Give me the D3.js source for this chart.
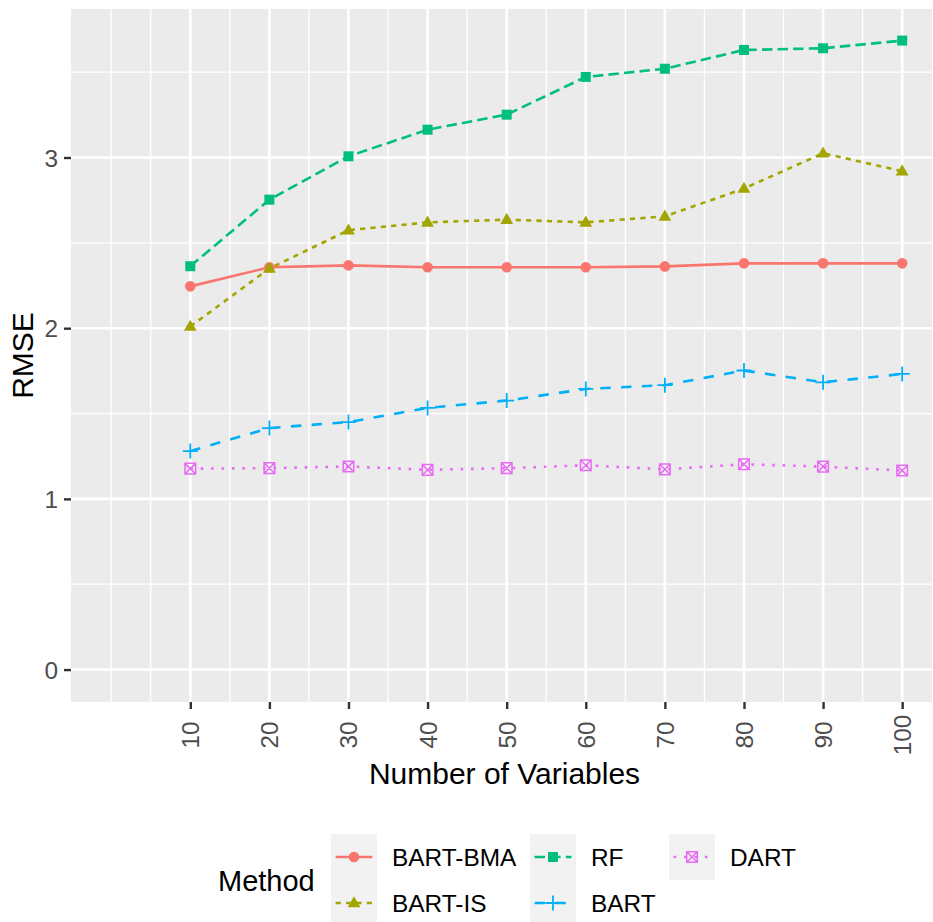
<!DOCTYPE html>
<html>
<head>
<meta charset="utf-8">
<script src="https://cdn.jsdelivr.net/npm/d3@7"></script>
<style>
  body { margin: 0; background: #fff; }
  text { font-family: "Liberation Sans", Arial, sans-serif; }
</style>
</head>
<body>
<div id="chart"></div>
<script>
// data
var nVars = [10, 20, 30, 40, 50, 60, 70, 80, 90, 100];
var methods = ["BART-BMA", "BART-IS", "RF", "BART", "DART"];
var bartBma = [2.245, 2.357, 2.368, 2.357, 2.357, 2.357, 2.362, 2.38, 2.38, 2.38];
var bartIs  = [2.01, 2.35, 2.574, 2.62, 2.636, 2.62, 2.655, 2.818, 3.025, 2.92];
var rf      = [2.363, 2.753, 3.007, 3.163, 3.251, 3.472, 3.52, 3.63, 3.64, 3.685];
var bart    = [1.28, 1.415, 1.45, 1.533, 1.576, 1.644, 1.666, 1.752, 1.683, 1.732];
var dart    = [1.177, 1.18, 1.19, 1.17, 1.18, 1.197, 1.173, 1.203, 1.189, 1.166];
var yTicks = [0, 1, 2, 3];
var yMinor = [0.5, 1.5, 2.5, 3.5];
var xMinor = [0, 5, 15, 25, 35, 45, 55, 65, 75, 85, 95];

function init() {
	var w = 933;
	var h = 922;
	var panel = {left: 71, right: 932, top: 9, bottom: 702};
	var colors = ["#F8766D", "#A3A500", "#00BF7D", "#00B0F6", "#E76BF3"];
	var lw = 2.6;
	var dashes = [null, "5.2,5.2", "10.4,5.2", "10.4,10.4", "2.6,7.8"];
	var values = [bartBma, bartIs, rf, bart, dart];
	var tickFont = "24.4px", titleFont = "30px";

	var xScale = d3.scaleLinear()
				.domain([-5.08, 103.77])
				.range([panel.left, panel.right]);
	var yScale = d3.scaleLinear()
				.domain([-0.19, 3.87])
				.range([panel.bottom, panel.top]);

	var svg = d3.select("#chart")
				.append("svg")
				.attr("width", w)
				.attr("height", h);

	// panel background + grid
	svg.append("rect")
		.attr("x", panel.left).attr("y", panel.top)
		.attr("width", panel.right - panel.left)
		.attr("height", panel.bottom - panel.top)
		.attr("fill", "#EBEBEB");

	var grid = svg.append("g");
	grid.selectAll("line.ymin").data(yMinor).enter().append("line")
		.attr("x1", panel.left).attr("x2", panel.right)
		.attr("y1", d => yScale(d)).attr("y2", d => yScale(d))
		.attr("stroke", "#fff").attr("stroke-width", 1.3);
	grid.selectAll("line.xmin").data(xMinor).enter().append("line")
		.attr("y1", panel.top).attr("y2", panel.bottom)
		.attr("x1", d => xScale(d)).attr("x2", d => xScale(d))
		.attr("stroke", "#fff").attr("stroke-width", 1.3);
	grid.selectAll("line.ymaj").data(yTicks).enter().append("line")
		.attr("x1", panel.left).attr("x2", panel.right)
		.attr("y1", d => yScale(d)).attr("y2", d => yScale(d))
		.attr("stroke", "#fff").attr("stroke-width", 2.6);
	grid.selectAll("line.xmaj").data(nVars).enter().append("line")
		.attr("y1", panel.top).attr("y2", panel.bottom)
		.attr("x1", d => xScale(d)).attr("x2", d => xScale(d))
		.attr("stroke", "#fff").attr("stroke-width", 2.6);

	// axes
	var xAxis = d3.axisBottom(xScale).tickValues(nVars).tickSize(7).tickPadding(6);
	var yAxis = d3.axisLeft(yScale).tickValues(yTicks).tickFormat(d3.format("d")).tickSize(7).tickPadding(6);

	var gx = svg.append("g")
		.attr("transform", "translate(0," + panel.bottom + ")")
		.call(xAxis);
	gx.select(".domain").remove();
	gx.selectAll(".tick line").attr("stroke", "#333333").attr("stroke-width", 2.4);
	gx.selectAll(".tick text")
		.attr("fill", "#4D4D4D")
		.style("font-size", tickFont)
		.attr("text-anchor", "middle")
		.attr("dominant-baseline", "central")
		.attr("x", 0).attr("y", 0).attr("dy", null)
		.attr("transform", "translate(0,33) rotate(-90)");

	var gy = svg.append("g")
		.attr("transform", "translate(" + panel.left + ",0)")
		.call(yAxis);
	gy.select(".domain").remove();
	gy.selectAll(".tick line").attr("stroke", "#333333").attr("stroke-width", 2.4);
	gy.selectAll(".tick text")
		.attr("fill", "#4D4D4D")
		.style("font-size", tickFont)
		.attr("x", -13).attr("dy", "0.35em");

	// axis titles
	svg.append("text")
		.attr("x", (panel.left + panel.right) / 2 + 3)
		.attr("y", 784)
		.attr("text-anchor", "middle")
		.style("font-size", titleFont)
		.text("Number of Variables");
	svg.append("text")
		.attr("transform", "translate(22," + (panel.top + panel.bottom) / 2 + ") rotate(-90)")
		.attr("text-anchor", "middle")
		.attr("dominant-baseline", "central")
		.style("font-size", titleFont)
		.text("RMSE");

	// marker shapes
	function shape(g, i, color) {
		if (i == 0) {
			g.append("circle").attr("r", 5.3).attr("fill", color);
		} else if (i == 1) {
			g.append("path").attr("d", "M0,-6.8L6.4,4.3L-6.4,4.3Z").attr("fill", color);
		} else if (i == 2) {
			g.append("rect").attr("x", -5).attr("y", -5).attr("width", 10).attr("height", 10).attr("fill", color);
		} else if (i == 3) {
			g.append("path").attr("d", "M-7.5,0H7.5M0,-7.5V7.5")
				.attr("stroke", color).attr("stroke-width", 1.8).attr("fill", "none");
		} else {
			g.append("path").attr("d", "M-5.3,-5.3H5.3V5.3H-5.3ZM-5.3,-5.3L5.3,5.3M5.3,-5.3L-5.3,5.3")
				.attr("stroke", color).attr("stroke-width", 1.5).attr("fill", "none");
		}
	}

	var line = d3.line()
		.x((d, i) => xScale(nVars[i]))
		.y(d => yScale(d));

	values.forEach(function(vals, i) {
		svg.append("path")
			.attr("d", line(vals))
			.attr("fill", "none")
			.attr("stroke", colors[i])
			.attr("stroke-width", lw)
			.attr("stroke-dasharray", dashes[i]);
		svg.selectAll("g.pt" + i)
			.data(vals)
			.enter()
			.append("g")
			.attr("transform", (d, j) => "translate(" + xScale(nVars[j]) + "," + yScale(d) + ")")
			.each(function() { shape(d3.select(this), i, colors[i]); });
	});

	// legend
	var leg = svg.append("g");
	leg.append("text")
		.attr("x", 218).attr("y", 881)
		.attr("dominant-baseline", "central")
		.style("font-size", "29px")
		.text("Method");
	var keyX = [331, 530, 669];
	var labX = [392, 591, 730];
	var keyW = 46, keyH = 46, keyTop = 834;
	methods.forEach(function(m, i) {
		var col = Math.floor(i / 2), row = i % 2;
		var kx = keyX[col], ky = keyTop + row * keyH;
		leg.append("rect")
			.attr("x", kx).attr("y", ky)
			.attr("width", keyW).attr("height", keyH)
			.attr("fill", "#F2F2F2");
		leg.append("line")
			.attr("x1", kx + keyW * 0.1).attr("x2", kx + keyW * 0.9)
			.attr("y1", ky + keyH / 2).attr("y2", ky + keyH / 2)
			.attr("stroke", colors[i])
			.attr("stroke-width", lw)
			.attr("stroke-dasharray", dashes[i]);
		var g = leg.append("g").attr("transform", "translate(" + (kx + keyW / 2) + "," + (ky + keyH / 2) + ")");
		shape(g, i, colors[i]);
		leg.append("text")
			.attr("x", labX[col]).attr("y", ky + keyH / 2)
			.attr("dominant-baseline", "central")
			.style("font-size", tickFont)
			.text(m);
	});
}

window.onload = init;
</script>
</body>
</html>
